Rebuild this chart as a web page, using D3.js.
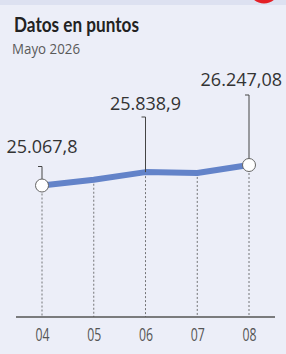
<!DOCTYPE html>
<html><head><meta charset="utf-8">
<script src="https://cdn.jsdelivr.net/npm/d3@7"></script>
<style>html,body{margin:0;padding:0;background:#eceef8;}svg{display:block}</style>
</head><body>
<script>
const categories = ["04", "05", "06", "07", "08"];
const values = [25067.8, 25400, 25838.9, 25790, 26247.08];
const labels = ["25.067,8", null, "25.838,9", null, "26.247,08"];
const title = "Datos en puntos";
const subtitle = "Mayo 2026";

const W = 286, H = 354;
const svg = d3.select("body").append("svg").attr("width", W).attr("height", H);
svg.append("rect").attr("width", W).attr("height", H).attr("fill", "#eceef8");
svg.append("rect").attr("width", W).attr("height", 5).attr("fill", "#dde1f1");
svg.append("circle").attr("cx", 264).attr("cy", -12).attr("r", 15.5).attr("fill", "#e41f26");

svg.append("text").attr("x", 14).attr("y", 31.5).text(title)
  .attr("font-family", "Lato, 'Open Sans', sans-serif").attr("font-weight", 700)
  .attr("font-size", 21.5).attr("fill", "#222")
  .attr("textLength", 125).attr("lengthAdjust", "spacingAndGlyphs");
svg.append("text").attr("x", 12).attr("y", 54).text(subtitle)
  .attr("font-family", "'Open Sans', sans-serif").attr("font-size", 14).attr("fill", "#5a5a5a")
  .attr("textLength", 68).attr("lengthAdjust", "spacingAndGlyphs");

const x = d3.scalePoint().domain(categories).range([42, 249]);
const y = d3.scaleLinear().domain([25067.8, 26247.08]).range([185.5, 165]);
const axisY = 317;

// dashed drop lines
svg.append("g").selectAll("line").data(categories).join("line")
  .attr("x1", d => x(d)).attr("x2", d => x(d))
  .attr("y1", (d, i) => y(values[i])).attr("y2", axisY)
  .attr("stroke", "#555").attr("stroke-width", 0.8).attr("stroke-dasharray", "2,2");

// axis
const axis = d3.axisBottom(x).tickSize(0).tickPadding(11);
const gx = svg.append("g").attr("transform", `translate(0,${axisY})`).call(axis);
gx.select(".domain").remove();
gx.append("line").attr("x1", 16).attr("x2", 275).attr("stroke", "#555").attr("stroke-width", 1.3);
gx.selectAll(".tick text").attr("font-family", "'Open Sans', sans-serif")
  .attr("font-size", 19).attr("fill", "#555").attr("dy", "0.71em")
  .attr("textLength", 14).attr("lengthAdjust", "spacingAndGlyphs");

// line
const line = d3.line().x((d, i) => x(categories[i])).y(d => y(d));
svg.append("path").datum(values).attr("d", line).attr("fill", "none")
  .attr("stroke", "#6383c9").attr("stroke-width", 6).attr("stroke-linejoin", "round");

// leaders and labels
const leaderTop = [166.5, null, 117, null, 95];
const labelBase = [153, null, 110, null, 86];
const lab = svg.append("g");
labels.forEach((t, i) => {
  if (!t) return;
  const cx = x(categories[i]), cy = y(values[i]);
  lab.append("path")
    .attr("d", `M${cx - 4},${leaderTop[i]}H${cx}V${cy}`)
    .attr("fill", "none").attr("stroke", "#444").attr("stroke-width", 1);
  const txt = lab.append("text").attr("y", labelBase[i]).text(t)
    .attr("font-family", "'Open Sans', sans-serif").attr("font-size", 18).attr("fill", "#333");
  const w = txt.node().getComputedTextLength();
  let lx = cx - w / 2;
  if (lx + w > 282) lx = 282 - w;
  if (lx < 4) lx = 4;
  txt.attr("x", lx);
});

// endpoint circles
[0, values.length - 1].forEach(i => {
  svg.append("circle").attr("cx", x(categories[i])).attr("cy", y(values[i])).attr("r", 6.5)
    .attr("fill", "#fff").attr("stroke", "#666").attr("stroke-width", 1);
});
</script>
</body></html>
